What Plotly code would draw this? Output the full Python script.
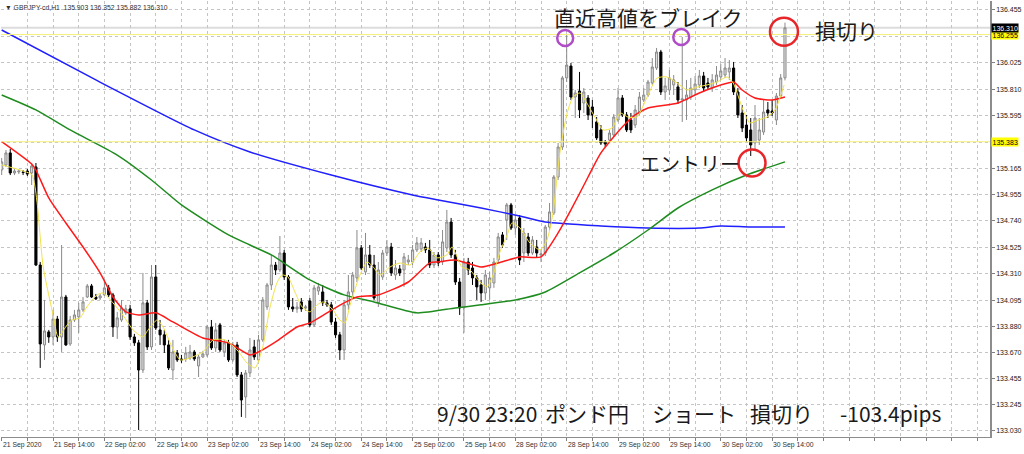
import plotly.graph_objects as go

# ---------------- data (GBPJPY H1, bar index 0..183) ----------------
open_ = [
    135.153, 135.194, 135.292, 135.129, 135.137, 135.137, 135.145, 135.129, 135.178, 134.380,
    133.730, 133.836, 133.795, 133.941, 133.795, 134.120, 133.738, 133.933, 133.958, 134.015,
    134.120, 134.210, 134.120, 134.112, 134.137, 134.194, 134.137, 133.876, 133.933, 133.991,
    134.023, 133.795, 133.747, 133.526, 134.072, 133.714, 134.283, 133.852, 133.812, 133.730,
    133.526, 133.665, 133.616, 133.616, 133.624, 133.673, 133.559, 133.632, 133.649, 133.876,
    133.706, 133.893, 133.673, 133.747, 133.608, 133.730, 133.486, 133.307, 133.502, 133.714,
    133.608, 133.771, 134.039, 134.218, 134.380, 134.340, 134.478, 134.283, 134.039, 134.023,
    134.080, 134.031, 134.088, 133.893, 134.169, 134.161, 134.072, 134.056, 133.917, 133.812,
    133.689, 134.056, 134.161, 134.275, 134.519, 134.324, 134.462, 134.380, 134.072, 134.283,
    134.478, 134.527, 134.299, 134.348, 134.340, 134.405, 134.405, 134.503, 134.511, 134.527,
    134.503, 134.380, 134.462, 134.405, 134.519, 134.730, 134.462, 134.242, 134.031, 134.405,
    134.356, 134.275, 134.218, 134.153, 134.194, 134.234, 134.421, 134.625, 134.747, 134.869,
    134.681, 134.763, 134.478, 134.608, 134.478, 134.527, 134.462, 134.478, 134.689, 134.804,
    135.096, 135.340, 135.902, 135.999, 135.747, 135.796, 135.698, 135.739, 135.666, 135.544,
    135.479, 135.381, 135.397, 135.438, 135.560, 135.739, 135.601, 135.560, 135.519, 135.617,
    135.723, 135.763, 135.861, 135.983, 136.113, 135.788, 135.804, 135.845, 135.829, 135.723,
    135.723, 135.747, 135.804, 135.845, 135.918, 135.861, 135.820, 135.869, 135.910, 135.926,
    135.951, 135.983, 135.788, 135.617, 135.519, 135.479, 135.373, 135.397, 135.462, 135.642,
    135.633, 135.560, 135.755, 135.903,
]
high_ = [
    135.251, 135.316, 135.324, 135.161, 135.153, 135.153, 135.161, 135.210, 135.210, 134.405,
    134.096, 133.852, 134.015, 133.966, 134.543, 134.137, 133.966, 134.015, 134.072, 134.120,
    134.226, 134.226, 134.145, 134.145, 134.259, 134.218, 134.153, 133.999, 134.096, 134.056,
    134.056, 133.820, 133.771, 134.316, 134.096, 134.380, 134.380, 133.933, 133.852, 133.771,
    133.771, 133.689, 133.649, 133.714, 133.730, 133.689, 133.649, 133.681, 133.893, 133.933,
    133.909, 133.909, 133.771, 133.771, 133.755, 133.755, 133.510, 133.526, 133.787, 133.771,
    133.812, 134.120, 134.234, 134.462, 134.405, 134.616, 134.503, 134.299, 134.112, 134.080,
    134.112, 134.056, 134.112, 134.218, 134.234, 134.218, 134.096, 134.080, 133.950, 133.836,
    134.096, 134.299, 134.324, 134.665, 134.543, 134.641, 134.543, 134.462, 134.405, 134.503,
    134.584, 134.560, 134.421, 134.380, 134.478, 134.462, 134.543, 134.608, 134.600, 134.560,
    134.584, 134.486, 134.486, 134.665, 134.828, 134.763, 134.503, 134.275, 134.438, 134.438,
    134.405, 134.299, 134.259, 134.340, 134.324, 134.438, 134.641, 134.649, 134.885, 134.885,
    134.787, 134.787, 134.681, 134.641, 134.616, 134.584, 134.503, 134.706, 134.885, 135.112,
    135.373, 135.918, 136.251, 136.024, 135.804, 135.951, 135.820, 135.763, 135.723, 135.584,
    135.519, 135.397, 135.479, 135.609, 135.820, 135.763, 135.625, 135.617, 135.682, 135.788,
    135.820, 135.886, 136.064, 136.146, 136.130, 135.902, 135.967, 135.926, 135.869, 136.235,
    135.886, 135.902, 135.918, 135.967, 135.951, 135.902, 135.934, 135.999, 136.015, 136.064,
    136.048, 136.032, 135.820, 135.682, 135.601, 135.576, 135.682, 135.576, 135.723, 135.706,
    135.723, 135.780, 135.934, 136.352,
]
low_ = [
    135.112, 135.178, 135.112, 135.112, 135.120, 135.112, 135.104, 135.031, 134.372, 133.543,
    133.608, 133.747, 133.730, 133.755, 133.673, 133.722, 133.722, 133.917, 133.828, 133.999,
    134.112, 134.112, 134.096, 134.096, 134.129, 134.120, 133.795, 133.779, 133.917, 133.974,
    133.771, 133.722, 133.038, 133.502, 133.689, 133.689, 133.852, 133.730, 133.665, 133.526,
    133.445, 133.592, 133.584, 133.592, 133.608, 133.600, 133.469, 133.624, 133.632, 133.689,
    133.673, 133.673, 133.632, 133.592, 133.592, 133.469, 133.144, 133.136, 133.469, 133.608,
    133.592, 133.755, 134.015, 134.177, 134.299, 134.324, 134.259, 134.015, 133.999, 133.991,
    133.999, 134.007, 133.876, 133.876, 134.137, 134.047, 134.039, 133.893, 133.787, 133.608,
    133.608, 134.015, 134.112, 134.242, 134.340, 134.299, 134.356, 134.096, 134.039, 134.259,
    134.454, 134.291, 134.259, 134.291, 134.202, 134.380, 134.380, 134.486, 134.486, 134.478,
    134.356, 134.356, 134.372, 134.380, 134.486, 134.438, 134.218, 133.974, 133.828, 134.299,
    134.218, 134.096, 134.080, 134.096, 134.096, 134.194, 134.397, 134.519, 134.584, 134.665,
    134.625, 134.380, 134.405, 134.454, 134.462, 134.438, 134.405, 134.454, 134.665, 134.787,
    135.072, 135.316, 135.869, 135.723, 135.576, 135.576, 135.617, 135.560, 135.495, 135.397,
    135.357, 135.340, 135.381, 135.422, 135.544, 135.584, 135.462, 135.454, 135.495, 135.601,
    135.706, 135.747, 135.845, 135.967, 135.763, 135.723, 135.763, 135.763, 135.690, 135.544,
    135.560, 135.723, 135.763, 135.820, 135.788, 135.804, 135.788, 135.845, 135.886, 135.902,
    135.886, 135.763, 135.576, 135.462, 135.381, 135.267, 135.316, 135.357, 135.438, 135.576,
    135.592, 135.519, 135.731, 135.882,
]
close_ = [
    135.219, 135.292, 135.129, 135.145, 135.145, 135.133, 135.120, 135.186, 134.380, 133.738,
    133.844, 133.795, 133.941, 133.795, 134.120, 133.730, 133.933, 133.974, 134.015, 134.080,
    134.210, 134.120, 134.104, 134.129, 134.194, 134.137, 133.876, 133.950, 134.031, 134.023,
    133.795, 133.747, 133.526, 134.072, 133.714, 134.283, 133.868, 133.812, 133.730, 133.543,
    133.673, 133.608, 133.608, 133.665, 133.673, 133.616, 133.632, 133.657, 133.876, 133.706,
    133.852, 133.689, 133.747, 133.608, 133.730, 133.486, 133.282, 133.502, 133.689, 133.632,
    133.771, 134.096, 134.218, 134.380, 134.340, 134.478, 134.283, 134.039, 134.023, 134.039,
    134.023, 134.039, 133.893, 134.194, 134.202, 134.072, 134.056, 133.917, 133.812, 133.689,
    134.056, 134.161, 134.299, 134.519, 134.356, 134.462, 134.380, 134.112, 134.340, 134.478,
    134.527, 134.316, 134.356, 134.316, 134.446, 134.421, 134.503, 134.560, 134.560, 134.503,
    134.380, 134.462, 134.397, 134.568, 134.730, 134.462, 134.242, 134.031, 134.405, 134.340,
    134.275, 134.202, 134.153, 134.299, 134.275, 134.405, 134.608, 134.543, 134.869, 134.681,
    134.747, 134.421, 134.641, 134.478, 134.584, 134.478, 134.470, 134.689, 134.812, 135.096,
    135.340, 135.902, 136.007, 135.747, 135.780, 135.642, 135.788, 135.601, 135.601, 135.414,
    135.373, 135.365, 135.454, 135.584, 135.739, 135.601, 135.479, 135.479, 135.642, 135.747,
    135.763, 135.869, 135.991, 136.113, 135.788, 135.837, 135.902, 135.886, 135.723, 135.731,
    135.763, 135.820, 135.853, 135.918, 135.820, 135.829, 135.886, 135.926, 135.959, 135.983,
    135.983, 135.788, 135.601, 135.495, 135.414, 135.357, 135.576, 135.479, 135.625, 135.617,
    135.617, 135.755, 135.902, 136.310,
]

# moving averages (bar position, price)
yellow_x = [0.0, 4.3, 7.1, 8.2, 9.7, 12.1, 13.2, 15.3, 16.4, 18.3,
            19.9, 22.3, 23.7, 26.0, 28.3, 30.7, 33.0, 34.2, 36.3, 37.7,
            39.8, 41.7, 44.0, 47.0, 49.4, 52.2, 55.0, 57.3, 59.2, 61.0,
            62.7, 64.3, 65.5, 66.9, 68.5, 70.2, 72.0, 73.7, 75.1, 77.4,
            79.0, 80.2, 81.4, 83.7, 85.4, 86.8, 88.4, 90.7, 93.1, 95.4,
            97.7, 99.6, 101.7, 104.0, 105.2, 106.4, 107.5, 109.4, 111.7, 113.4,
            114.8, 116.4, 118.1, 119.2, 121.1, 123.4, 125.8, 127.4, 128.8, 130.4,
            132.1, 133.5, 135.1, 136.7, 138.6, 140.5, 142.6, 144.5, 146.3, 148.4,
            150.8, 153.1, 155.4, 157.8, 160.1, 162.5, 164.8, 167.1, 169.5, 170.9,
            173.2, 174.8, 176.7, 178.8, 180.7, 182.8]
yellow_y = [135.194, 135.153, 135.112, 134.909, 134.364, 133.958, 133.795, 133.893, 133.933, 133.950,
            134.039, 134.137, 134.153, 134.072, 133.974, 133.852, 133.795, 133.852, 133.933, 133.876,
            133.714, 133.608, 133.624, 133.673, 133.771, 133.771, 133.689, 133.584, 133.543, 133.714,
            134.039, 134.234, 134.299, 134.283, 134.161, 134.039, 133.999, 134.056, 134.080, 134.015,
            133.933, 133.909, 134.056, 134.299, 134.405, 134.364, 134.299, 134.364, 134.397, 134.380,
            134.486, 134.519, 134.438, 134.462, 134.527, 134.446, 134.364, 134.340, 134.242, 134.202,
            134.299, 134.486, 134.625, 134.722, 134.681, 134.559, 134.503, 134.584, 134.803, 135.291,
            135.617, 135.747, 135.780, 135.698, 135.584, 135.479, 135.495, 135.617, 135.584, 135.584,
            135.747, 135.901, 135.910, 135.861, 135.804, 135.828, 135.845, 135.869, 135.910, 135.861,
            135.642, 135.536, 135.560, 135.584, 135.642, 135.845]

red_x = [0, 7, 8, 11, 15, 19, 23, 26, 29, 32, 36, 40, 47, 53, 58, 60, 64, 69, 72, 76,
         80, 83, 88, 95, 100, 102, 106, 112, 116, 121, 126, 130, 133, 137, 140, 145, 148,
         151, 158, 163, 168, 171, 173, 176, 180, 183]
red_y = [135.384, 135.202, 135.153, 134.926, 134.722, 134.527, 134.316, 134.120, 133.999, 133.974,
         133.991, 133.917, 133.787, 133.747, 133.649, 133.673, 133.755, 133.876, 133.909, 133.991,
         134.072, 134.120, 134.137, 134.242, 134.397, 134.405, 134.421, 134.364, 134.397, 134.446,
         134.446, 134.641, 134.828, 135.096, 135.292, 135.503, 135.601, 135.658, 135.698, 135.780,
         135.845, 135.869, 135.804, 135.739, 135.723, 135.747]

green_x = [0, 8, 16, 27, 35, 42, 53, 58, 63, 72, 80, 87, 97, 106, 112, 120, 127, 135,
           143, 151, 158, 166, 174, 183]
green_y = [135.763, 135.642, 135.479, 135.275, 135.072, 134.869, 134.625, 134.543, 134.462, 134.259,
           134.137, 134.080, 133.991, 134.031, 134.056, 134.096, 134.161, 134.316, 134.478, 134.665,
           134.844, 134.991, 135.112, 135.219]

blue_x = [0, 22, 45, 58, 77, 96, 102, 112, 121, 127, 140, 151, 163, 168, 175, 183]
blue_y = [136.292, 135.886, 135.479, 135.300, 135.112, 134.950, 134.909, 134.844, 134.779, 134.730,
          134.698, 134.681, 134.681, 134.698, 134.690, 134.690]

# axis ticks
price_ticks = [136.455, 136.240, 136.025, 135.810, 135.595, 135.380, 135.165, 134.955, 134.740,
               134.525, 134.310, 134.095, 133.880, 133.670, 133.455, 133.245, 133.030]
price_tick_text = ["136.455", "", "136.025", "135.810", "135.595", "", "135.165", "134.955", "134.740",
                   "134.525", "134.310", "134.095", "133.880", "133.670", "133.455", "133.245", "133.030"]
date_label_bars = [0, 12, 24, 36, 48, 60, 72, 84, 96, 108, 120, 132, 144, 156, 168, 180]
date_labels = ["21 Sep 2020", "21 Sep 14:00", "22 Sep 02:00", "22 Sep 14:00", "23 Sep 02:00",
               "23 Sep 14:00", "24 Sep 02:00", "24 Sep 14:00", "25 Sep 02:00", "25 Sep 14:00",
               "28 Sep 02:00", "28 Sep 14:00", "29 Sep 02:00", "29 Sep 14:00", "30 Sep 02:00",
               "30 Sep 14:00"]
grid_bars = list(range(0, 231, 6))

level_lines = [136.255, 135.383]
bid_price = 136.310

header = "▼ GBPJPY-cd,H1  135.903 136.352 135.882 136.310"

# ---------------- figure ----------------
bars = list(range(len(open_)))
fig = go.Figure()

fig.add_trace(go.Candlestick(
    x=bars, open=open_, high=high_, low=low_, close=close_,
    increasing=dict(line=dict(color="#8a8a8a", width=1), fillcolor="#e0e0e0"),
    decreasing=dict(line=dict(color="#000000", width=1), fillcolor="#000000"),
    whiskerwidth=0, hoverinfo="skip",
))

for xs, ys, col, w in [(blue_x, blue_y, "#1f1fff", 1.5),
                       (green_x, green_y, "#1e8c1e", 1.5),
                       (red_x, red_y, "#ff1a1a", 1.5),
                       (yellow_x, yellow_y, "#f2e24a", 1.0)]:
    fig.add_trace(go.Scatter(x=xs, y=ys, mode="lines",
                             line=dict(color=col, width=w, shape="spline", smoothing=0.6),
                             hoverinfo="skip"))

shapes = []
shapes.append(dict(type="line", xref="paper", x0=0, x1=1, yref="y", y0=bid_price, y1=bid_price,
                   line=dict(color="#dcdcdc", width=2), layer="below"))
for lv in level_lines:
    shapes.append(dict(type="line", xref="paper", x0=0, x1=1, yref="y", y0=lv, y1=lv,
                       line=dict(color="#f5f07a", width=1)))

def circle(bar, price, dx, dy, r, color):
    return dict(type="circle", xref="x", yref="y", xsizemode="pixel", ysizemode="pixel",
                xanchor=bar, yanchor=price, x0=dx - r, x1=dx + r, y0=dy - r, y1=dy + r,
                line=dict(color=color, width=2.5))

shapes.append(circle(132, high_[132], -1.5, -3, 8, "#b04cc8"))
shapes.append(circle(159, high_[159], -1, 0, 8, "#b04cc8"))
shapes.append(circle(183, high_[183], -1, -9, 14, "#e8262a"))
shapes.append(circle(175, low_[175], 1.3, -7, 13.5, "#e8262a"))

ann = []
for b, t in zip(date_label_bars, date_labels):
    ann.append(dict(x=b, xref="x", y=0, yref="paper", yanchor="top", xanchor="left",
                    yshift=-2, xshift=-1, text=t, showarrow=False,
                    font=dict(family="Liberation Sans", size=6.8, color="#303030")))

def price_box(val, text, bg, fg):
    ann.append(dict(x=1, xref="paper", y=val, yref="y", xanchor="left", yanchor="middle",
                    xshift=1, text=text, showarrow=False, bgcolor=bg, borderpad=0.5,
                    font=dict(family="Liberation Sans", size=7, color=fg)))

price_box(level_lines[0], "136.255", "#ffff00", "#000000")
price_box(bid_price, "136.310", "#000000", "#ffffff")
price_box(level_lines[1], "135.383", "#ffff00", "#000000")

ann.append(dict(x=0.002, xref="paper", y=0.985, yref="paper", xanchor="left", yanchor="middle",
                text=header, showarrow=False,
                font=dict(family="Liberation Sans", size=6.8, color="#303030")))

jp = "Noto Sans CJK JP"
def jtext(px, py, text, anchor="left", size=21):
    ann.append(dict(x=(px - 1) / 989, xref="paper", y=(437 - py) / 436, yref="paper",
                    xanchor=anchor, yanchor="middle", text=text, showarrow=False,
                    font=dict(family=jp, size=size, color="#1a1a1a")))

jtext(648, 17, "直近高値をブレイク", "center")
jtext(813, 30, "損切り")
jtext(638, 163, "エントリー", size=20)
jtext(435, 413, "9/30 23:20", size=21)
jtext(543, 413, "ポンド円", size=21)
jtext(650, 413, "ショート", size=21)
jtext(748, 413, "損切り", size=21)
jtext(838, 413, "-103.4pips", size=21)

fig.update_layout(
    width=1024, height=454,
    margin=dict(l=1, r=34, t=1, b=17),
    plot_bgcolor="white", paper_bgcolor="white",
    showlegend=False,
    shapes=shapes, annotations=ann,
    xaxis=dict(range=[-0.16, 230.9], tickvals=grid_bars, showticklabels=False,
               ticks="outside", ticklen=3, tickcolor="#808080",
               showgrid=True, gridcolor="#c4c4c4", griddash="dot", gridwidth=1,
               zeroline=False, showline=True, linecolor="#8c8c8c", linewidth=1,
               rangeslider=dict(visible=False), fixedrange=True),
    yaxis=dict(side="right", range=[132.981, 136.528], tickvals=price_ticks,
               ticktext=price_tick_text, ticks="outside", ticklen=3, tickcolor="#808080",
               tickfont=dict(family="Liberation Sans", size=7, color="#202020"),
               showgrid=True, gridcolor="#c4c4c4", griddash="dot", gridwidth=1,
               zeroline=False, showline=True, linecolor="#8c8c8c", linewidth=1.5,
               fixedrange=True),
)

fig.write_html("out.html", config={"displayModeBar": False},
               post_script="document.body.style.margin='0';")
